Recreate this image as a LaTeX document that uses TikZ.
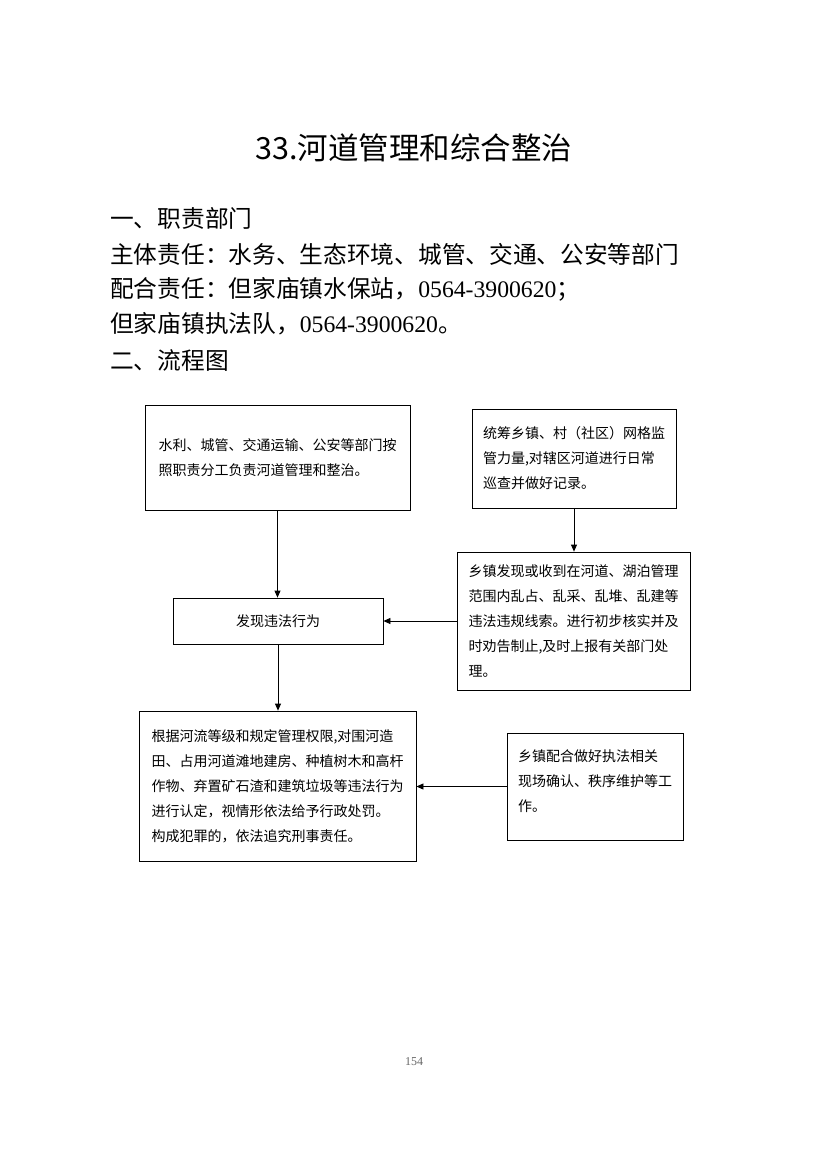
\documentclass[tikz,border=0pt]{standalone}
\usepackage{fontspec}
\setmainfont{Noto Sans CJK SC}
\newfontfamily\numfont{Liberation Serif}
\usetikzlibrary{arrows.meta}
\begin{document}
\begin{tikzpicture}[x=1pt,y=-1pt,
  box/.style={draw, line width=0.8pt, inner sep=0pt, align=left, font=\fontsize{14}{25}\selectfont},
  arr/.style={line width=0.8pt, -{Triangle[length=7pt,width=6pt]}},
  head/.style={anchor=west, inner sep=0pt, font=\fontsize{23.7}{24}\selectfont}]
\useasboundingbox[fill=white] (0,0) rectangle (828,1152);
\node[inner sep=0pt, font=\fontsize{30.5}{31}\selectfont] (title) at (414,148) {33.河道管理和综合整治};
\node[head] (h1) at (110,218) {一、职责部门};
\node[head] (h2) at (110,254) {主体责任：水务、生态环境、城管、交通、公安等部门};
\node[head] (h3) at (110,289) {配合责任：但家庙镇水保站，{\numfont 0564-3900620}；};
\node[head] (h4) at (110,324) {但家庙镇执法队，{\numfont 0564-3900620}。};
\node[head] (h5) at (110,360) {二、流程图};

\node[box, minimum width=265pt, minimum height=105pt] (A) at (277.5,457.5)
  {水利、城管、交通运输、公安等部门按\\照职责分工负责河道管理和整治。};
\node[box, minimum width=204pt, minimum height=99pt] (B) at (574,458.5)
  {统筹乡镇、村（社区）网格监\\管力量,对辖区河道进行日常\\巡查并做好记录。};
\node[box, align=center, minimum width=210pt, minimum height=46pt] (C) at (278,621)
  {发现违法行为};
\node[box, minimum width=233pt, minimum height=138pt] (D) at (573.5,621)
  {乡镇发现或收到在河道、湖泊管理\\范围内乱占、乱采、乱堆、乱建等\\违法违规线索。进行初步核实并及\\时劝告制止,及时上报有关部门处\\理。};
\node[box, minimum width=277pt, minimum height=150pt] (E) at (277.5,786)
  {根据河流等级和规定管理权限,对围河造\\田、占用河道滩地建房、种植树木和高杆\\作物、弃置矿石渣和建筑垃圾等违法行为\\进行认定，视情形依法给予行政处罚。\\构成犯罪的，依法追究刑事责任。};
\node[box, minimum width=176pt, minimum height=107pt, text depth=12pt] (F) at (595,786.5)
  {乡镇配合做好执法相关\\现场确认、秩序维护等工\\作。};

\draw[arr] (A.south) -- (A.south |- C.north);
\draw[arr] (B.south) -- (B.south |- D.north);
\draw[arr] (D.west) -- (C.east);
\draw[arr] (C.south) -- (C.south |- E.north);
\draw[arr] (F.west) -- (F.west -| E.east);

\node[inner sep=0pt, text=black!60, font=\numfont\fontsize{12}{12}\selectfont] (pg) at (414,1062) {154};
\end{tikzpicture}
\end{document}
